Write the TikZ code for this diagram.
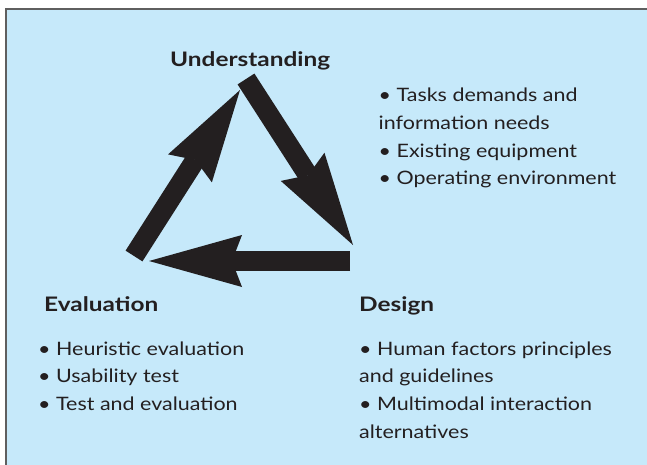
\documentclass[tikz,border=0pt]{standalone}
\usepackage{fontspec}
\setmainfont{Lato}
\newfontfamily\itemfont{Lato}[FakeStretch=1.16]
\newfontfamily\headfont{Lato}[FakeStretch=1.22]
\usetikzlibrary{arrows.meta}
\definecolor{panelblue}{RGB}{198,233,250}
\definecolor{panelframe}{RGB}{95,95,95}
\definecolor{ink}{RGB}{35,31,32}
\tikzset{
  heading/.style={font=\headfont\bfseries\fontsize{20}{24}\selectfont, text=ink, anchor=base west, inner sep=0pt},
  item/.style={font=\itemfont\fontsize{18.5}{22}\selectfont, text=ink, anchor=base west, inner sep=0pt},
  cyclearrow/.style={ink, line width=20pt,
    -{Stealth[length=93pt, width=52pt, inset=10pt, line width=0pt]}}
}
\begin{document}
\begin{tikzpicture}[x=1pt,y=-1pt]
	\useasboundingbox (0,0) rectangle (647,465);
	\fill [white] (0,0) rectangle (647,465);
	\fill [panelblue] (6,9) rectangle (647,465);
	\draw [panelframe, line width=1.2pt] (6,465) -- (6,9) -- (647,9);
	\coordinate (evalend) at (134,256);
	\coordinate (undtip) at (240,90);
	\coordinate (undend) at (246,79);
	\coordinate (destip) at (353,245);
	\coordinate (desend) at (350,261);
	\coordinate (evaltip) at (149,261);
	\draw [cyclearrow] (evalend) -- (undtip);
	\draw [cyclearrow] (undend) -- (destip);
	\draw [cyclearrow] (desend) -- (evaltip);
	\node [heading] (und) at (170,66.5) {Understanding};
	\node [item] (und1) at (378.5,101.7) {\textbullet\ Tasks demands and};
	\node [item] (und2) at (378.5,129.4) {information needs};
	\node [item] (und3) at (378.5,157.1) {\textbullet\ Existing equipment};
	\node [item] (und4) at (378.5,184.8) {\textbullet\ Operating environment};
	\node [heading] (eval) at (44,311) {Evaluation};
	\node [item] (eval1) at (38,355) {\textbullet\ Heuristic evaluation};
	\node [item] (eval2) at (38,382.7) {\textbullet\ Usability test};
	\node [item] (eval3) at (38,410.4) {\textbullet\ Test and evaluation};
	\node [heading] (des) at (359,311) {Design};
	\node [item] (des1) at (359,355) {\textbullet\ Human factors principles};
	\node [item] (des2) at (359,382.7) {and guidelines};
	\node [item] (des3) at (359,410.4) {\textbullet\ Multimodal interaction};
	\node [item] (des4) at (359,438.1) {alternatives};
\end{tikzpicture}
\end{document}
